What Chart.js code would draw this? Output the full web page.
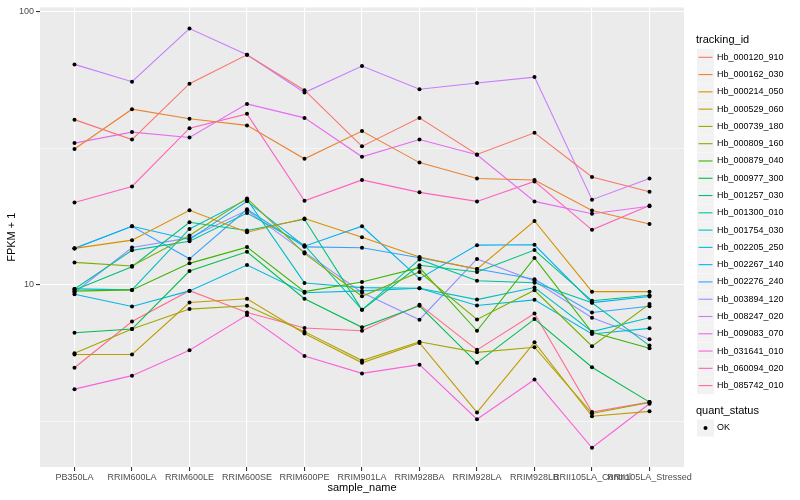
<!DOCTYPE html>
<html><head><meta charset="utf-8">
<script src="https://cdn.jsdelivr.net/npm/chart.js@4.4.1/dist/chart.umd.min.js"></script>
<style>html,body{margin:0;padding:0;background:#fff}canvas{display:block}</style>
</head><body>
<canvas id="c" width="800" height="500" style="width:800px;height:500px"></canvas>
<script>
// ---- data ----
const categories = ["PB350LA","RRIM600LA","RRIM600LE","RRIM600SE","RRIM600PE","RRIM901LA","RRIM928BA","RRIM928LA","RRIM928LB","RRII105LA_Control","RRII105LA_Stressed"];
const trackingIds = ["Hb_000120_910","Hb_000162_030","Hb_000214_050","Hb_000529_060","Hb_000739_180","Hb_000809_160","Hb_000879_040","Hb_000977_300","Hb_001257_030","Hb_001300_010","Hb_001754_030","Hb_002205_250","Hb_002267_140","Hb_002276_240","Hb_003894_120","Hb_008247_020","Hb_009083_070","Hb_031641_010","Hb_060094_020","Hb_085742_010"];
const Hb_000120_910 = [40.2, 34.0, 54.4, 69.4, 51.5, 32.1, 40.8, 30.0, 36.0, 24.8, 21.9];
const Hb_000162_030 = [31.4, 43.9, 40.5, 38.3, 28.9, 36.5, 28.0, 24.5, 24.2, 18.7, 16.7];
const Hb_000214_050 = [13.6, 14.58, 18.74, 15.59, 17.48, 14.95, 12.65, 11.43, 17.13, 9.45, 9.45];
const Hb_000529_060 = [5.57, 5.57, 8.62, 8.90, 6.65, 5.19, 6.14, 3.42, 6.17, 3.31, 3.45];
const Hb_000739_180 = [5.63, 6.90, 8.16, 8.39, 6.75, 5.29, 6.20, 5.67, 5.92, 3.39, 3.72];
const Hb_000809_160 = [12.09, 11.73, 15.16, 20.72, 13.04, 9.09, 11.15, 7.48, 9.56, 5.97, 8.51];
const Hb_000879_040 = [9.49, 9.59, 11.99, 13.75, 9.45, 10.25, 11.56, 6.80, 12.55, 6.71, 5.87];
const Hb_000977_300 = [6.69, 6.90, 11.24, 13.22, 8.90, 7.00, 8.39, 5.19, 7.50, 5.00, 3.73];
const Hb_001257_030 = [9.59, 11.65, 16.95, 15.81, 17.38, 8.11, 11.80, 11.15, 13.41, 8.75, 9.17];
const Hb_001300_010 = [9.67, 13.38, 14.45, 18.32, 13.98, 8.11, 12.40, 10.36, 10.19, 8.60, 6.00];
const Hb_001754_030 = [9.67, 9.59, 16.02, 20.55, 10.17, 9.78, 9.73, 8.84, 9.78, 6.75, 7.59];
const Hb_002205_250 = [9.25, 8.34, 9.51, 11.82, 9.36, 9.51, 9.73, 8.41, 8.82, 6.62, 6.94];
const Hb_002267_140 = [13.63, 16.39, 14.66, 20.21, 13.86, 16.39, 10.54, 13.98, 14.02, 8.62, 9.07];
const Hb_002276_240 = [13.58, 16.39, 12.46, 18.90, 13.78, 13.67, 12.57, 11.43, 10.49, 7.93, 8.36];
const Hb_003894_120 = [9.38, 13.71, 14.86, 18.74, 13.18, 9.38, 7.46, 12.44, 10.34, 7.59, 6.33];
const Hb_008247_020 = [64.0, 55.3, 86.5, 69.4, 50.5, 63.1, 51.9, 54.7, 57.5, 20.5, 24.5];
const Hb_009083_070 = [33.0, 36.2, 34.6, 45.9, 40.8, 29.4, 34.0, 29.9, 20.2, 18.2, 19.4];
const Hb_031641_010 = [4.16, 4.66, 5.77, 7.76, 5.50, 4.75, 5.11, 3.23, 4.51, 2.54, 3.68];
const Hb_060094_020 = [20.0, 22.9, 37.4, 42.2, 20.3, 24.2, 21.8, 20.2, 23.9, 15.9, 19.5];
const Hb_085742_010 = [4.98, 7.35, 9.53, 7.93, 6.96, 6.80, 8.46, 5.79, 7.86, 3.43, 3.73];
const seriesValues = [Hb_000120_910,Hb_000162_030,Hb_000214_050,Hb_000529_060,Hb_000739_180,Hb_000809_160,Hb_000879_040,Hb_000977_300,Hb_001257_030,Hb_001300_010,Hb_001754_030,Hb_002205_250,Hb_002267_140,Hb_002276_240,Hb_003894_120,Hb_008247_020,Hb_009083_070,Hb_031641_010,Hb_060094_020,Hb_085742_010];
const quantStatus = ["OK"];
const yTickValues = [3.1623, 10, 31.623, 100];
const yTickLabels = ["", "10", "", "100"];

// ---- styles ----
const colors = ["#F8766D","#EA8331","#D89000","#C09B00","#A3A500","#7CAE00","#39B600","#00BB4E","#00BF7D","#00C1A3","#00BFC4","#00BAE0","#00B0F6","#35A2FF","#9590FF","#C77CFF","#E76BF3","#FA62DB","#FF62BC","#FF6C91"];
const FONT = '"Liberation Sans", Arial, sans-serif';

const toPts = arr => arr.map((v, i) => ({x: i, y: v}));
const lineSets = seriesValues.map((vals, k) => ({
  label: trackingIds[k], data: toPts(vals), borderColor: colors[k], backgroundColor: colors[k],
  borderWidth: 1.1, pointRadius: 0, tension: 0, order: 2
}));
const pointSets = seriesValues.map((vals, k) => ({
  label: trackingIds[k] + ' ' + quantStatus[0], data: toPts(vals), showLine: false,
  pointRadius: 2, pointBackgroundColor: '#000', pointBorderWidth: 0, borderColor: '#000', order: 1
}));

const decor = {
  id: 'decor',
  beforeDraw(chart) {
    const {ctx, chartArea: a} = chart;
    ctx.save();
    ctx.fillStyle = '#EBEBEB';
    ctx.fillRect(a.left, a.top, a.right - a.left, a.bottom - a.top);
    ctx.restore();
  },
  afterDraw(chart) {
    const {ctx, chartArea: a} = chart;
    ctx.save();
    ctx.fillStyle = '#000';
    ctx.font = '11px ' + FONT;
    ctx.textAlign = 'center'; ctx.textBaseline = 'middle';
    ctx.fillText('sample_name', (a.left + a.right) / 2, 488);
    ctx.save();
    ctx.translate(12, (a.top + a.bottom) / 2);
    ctx.rotate(-Math.PI / 2);
    ctx.fillText('FPKM + 1', 0, 0);
    ctx.restore();
    // legend: tracking_id
    ctx.textAlign = 'left';
    ctx.fillText('tracking_id', 696, 40);
    ctx.font = '9px ' + FONT;
    trackingIds.forEach((id, i) => {
      const y = 57.3 + i * 17.28;
      ctx.fillStyle = '#F2F2F2';
      ctx.fillRect(697, y - 8.5, 17, 17);
      ctx.strokeStyle = colors[i]; ctx.lineWidth = 1.1;
      ctx.beginPath(); ctx.moveTo(698.5, y); ctx.lineTo(712.5, y); ctx.stroke();
      ctx.fillStyle = '#000';
      ctx.fillText(id, 717, y);
    });
    // legend: quant_status
    ctx.font = '11px ' + FONT;
    ctx.fillText('quant_status', 696, 411);
    const yq = 428;
    ctx.fillStyle = '#F2F2F2';
    ctx.fillRect(697, yq - 8.5, 17, 17);
    ctx.fillStyle = '#000';
    ctx.beginPath(); ctx.arc(705.5, yq, 2, 0, Math.PI * 2); ctx.fill();
    ctx.font = '9px ' + FONT;
    ctx.fillText(quantStatus[0], 717, yq);
    ctx.restore();
  }
};

new Chart(document.getElementById('c'), {
  type: 'line',
  data: {datasets: [...lineSets, ...pointSets]},
  options: {
    responsive: false, animation: false, devicePixelRatio: 1,
    layout: {padding: {left: 0, right: 116, top: 5, bottom: 0}},
    plugins: {legend: {display: false}, tooltip: {enabled: false}},
    scales: {
      x: {
        type: 'linear', min: -0.6, max: 10.6,
        afterBuildTicks: s => { s.ticks = categories.map((c, i) => ({value: i})); },
        afterFit: s => { s.height = 33; },
        border: {display: false},
        grid: {color: '#FFFFFF', lineWidth: 1.1, tickColor: '#333333', tickLength: 4, drawTicks: true},
        ticks: {autoSkip: false, maxRotation: 0, minRotation: 0, padding: 1, color: '#4D4D4D',
          font: {family: FONT, size: 9}, callback: v => categories[v] ?? ''}
      },
      y: {
        type: 'logarithmic', min: 2.16, max: 103.4,
        afterBuildTicks: s => { s.ticks = yTickValues.map(v => ({value: v})); },
        afterFit: s => { s.width = 40; },
        border: {display: false},
        grid: {
          color: '#FFFFFF',
          lineWidth: c => (yTickLabels[yTickValues.indexOf(c.tick.value)] ? 1.1 : 0.55),
          tickColor: c => (yTickLabels[yTickValues.indexOf(c.tick.value)] ? '#333333' : 'rgba(0,0,0,0)'),
          tickLength: 4
        },
        ticks: {padding: 2, color: '#4D4D4D', font: {family: FONT, size: 9},
          callback: (v) => { const i = yTickValues.indexOf(v); return i >= 0 ? yTickLabels[i] : ''; }}
      }
    }
  },
  plugins: [decor]
});
</script>
</body></html>
